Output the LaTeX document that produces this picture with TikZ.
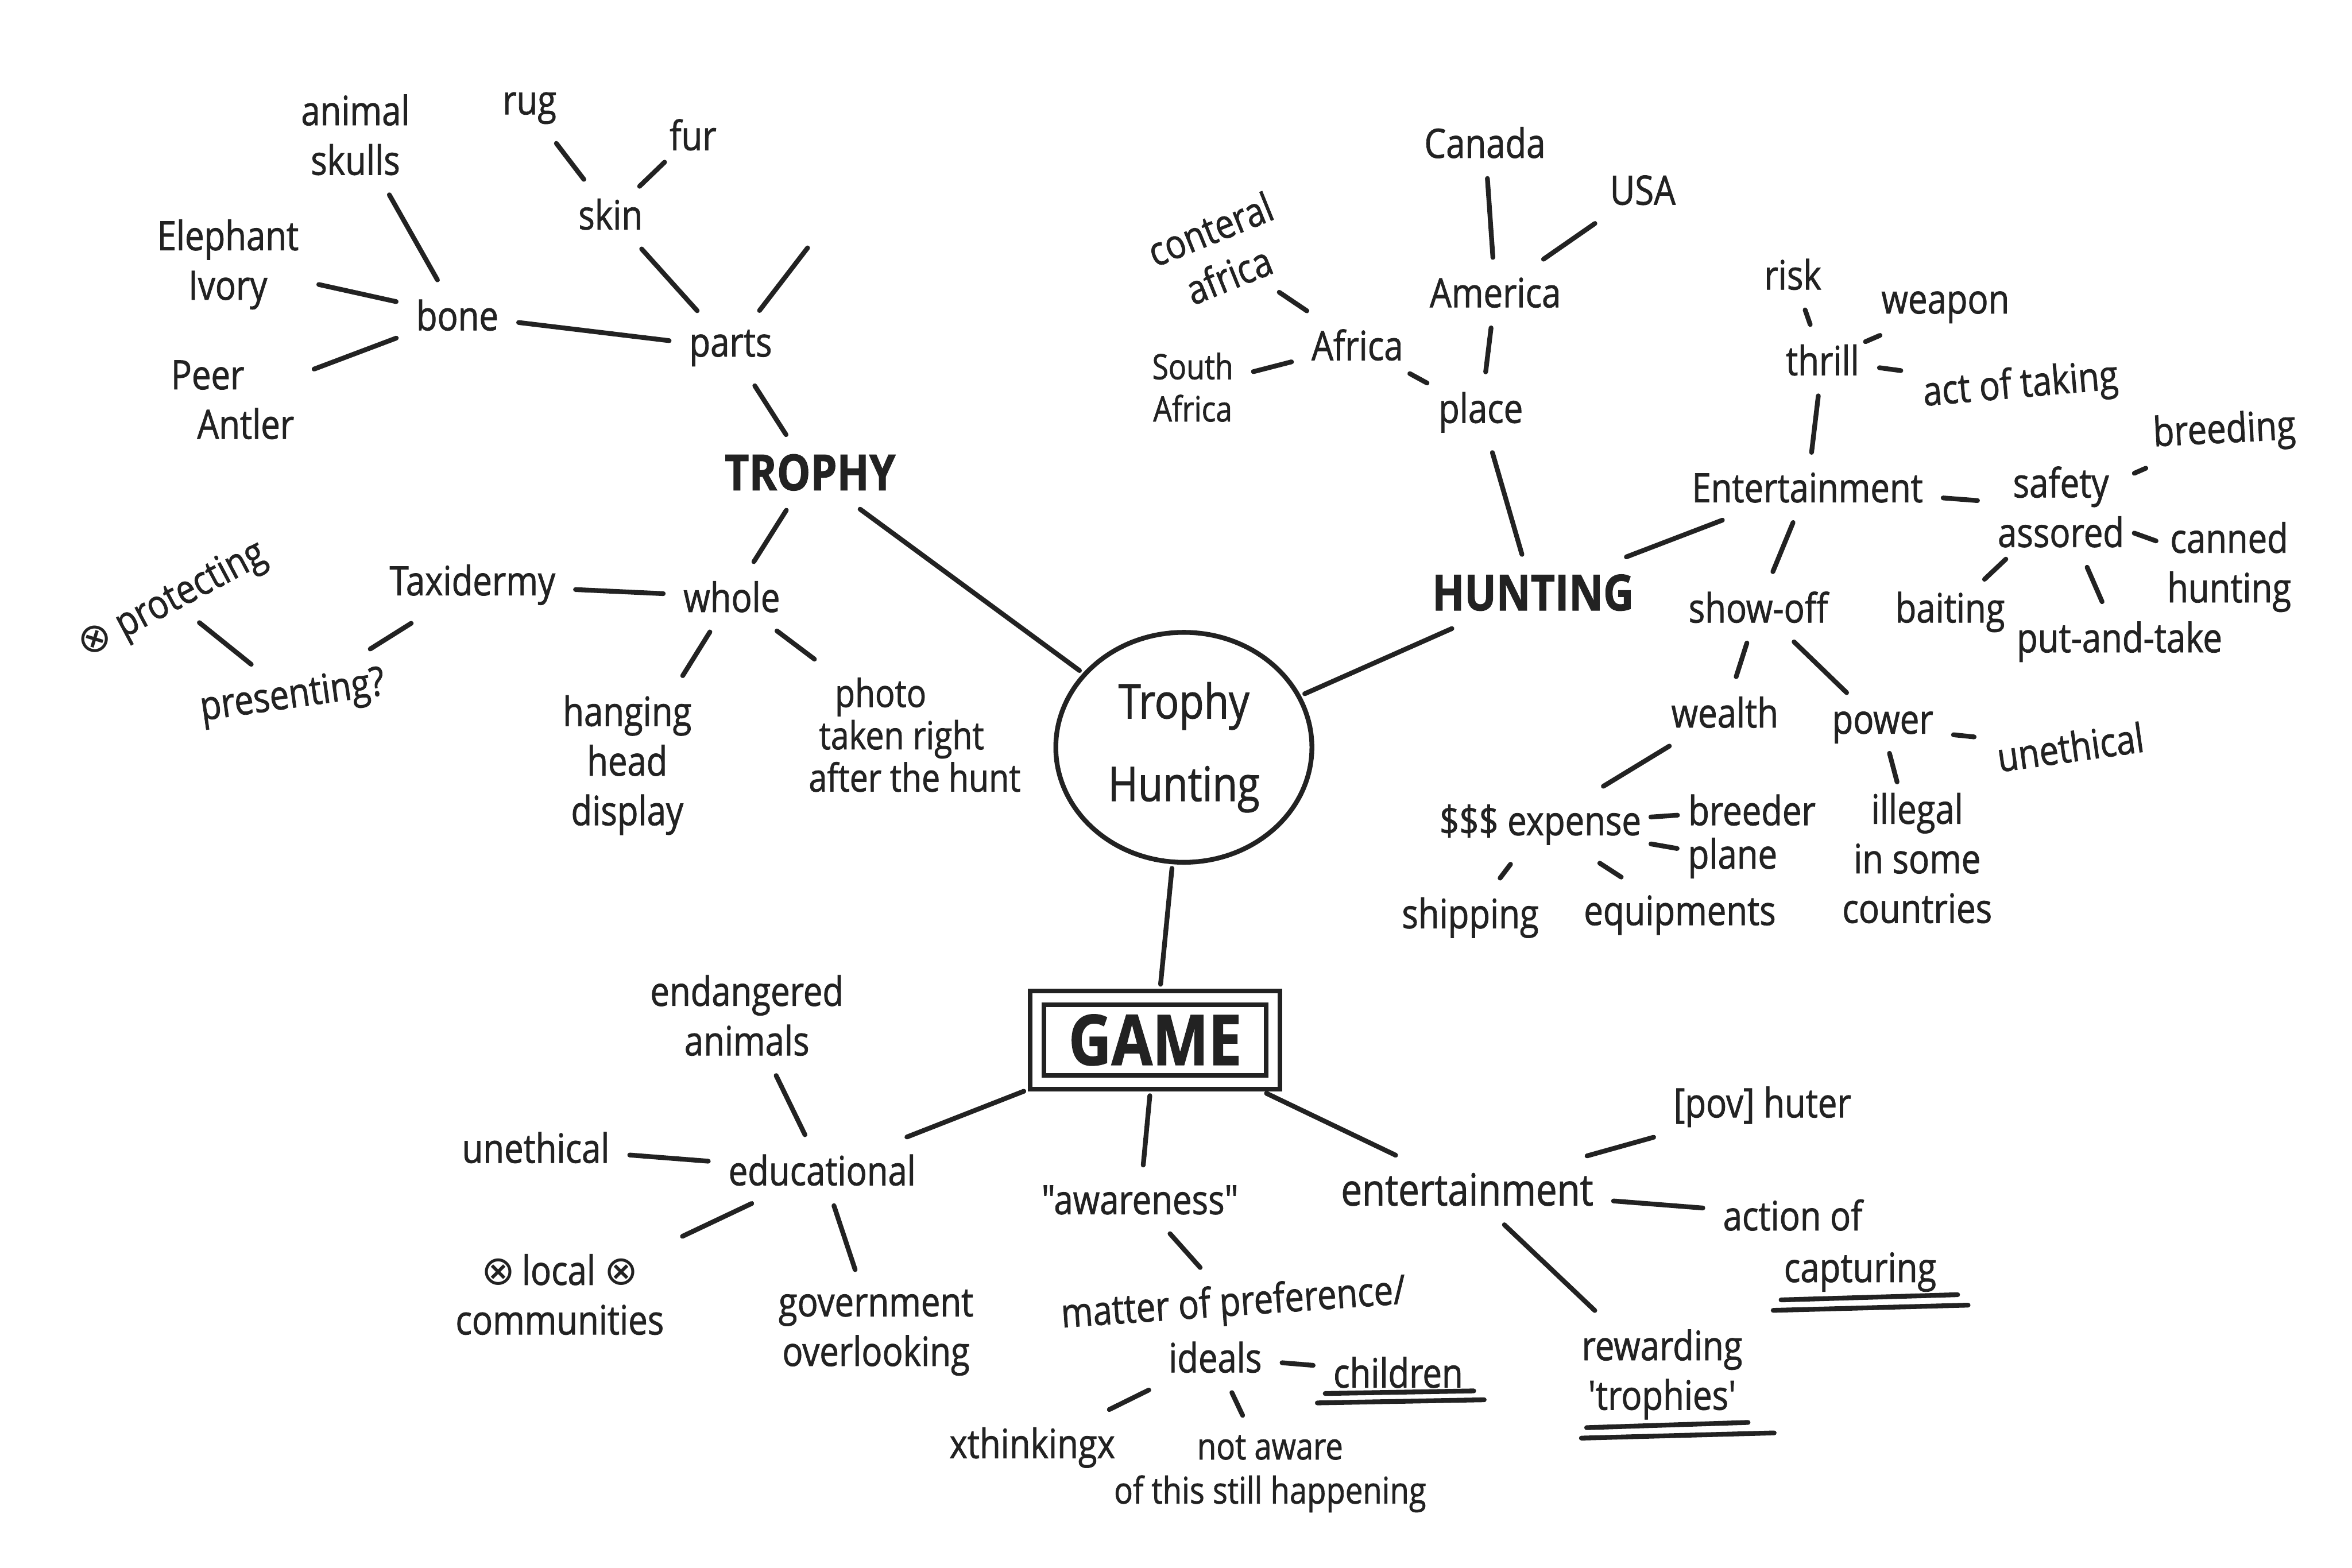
\documentclass[tikz,border=0pt]{standalone}
\usepackage{fontspec}
\setmainfont{Open Sans}[FakeStretch=0.85, FakeBold=1.2, Ligatures=TeXOff]
\newfontfamily\xmarkfont{DejaVu Sans}
\usetikzlibrary{positioning, fit, shapes.geometric}
\definecolor{ink}{HTML}{222222}
\newcommand{\xo}{{\xmarkfont ⊗}}

\begin{document}
\begin{tikzpicture}[
    font=\fontsize{22}{27}\selectfont,
    color=ink,
    leaf/.style={inner sep=0.3cm, align=center},
    topic/.style={leaf, font=\fontsize{27}{30}\selectfont\bfseries},
    hub/.style={ellipse, draw, line width=2.6pt, minimum width=4.9cm, minimum height=4.4cm, inner sep=0pt, align=center, font=\fontsize{26}{45}\selectfont},
    gamebox/.style={rectangle, draw, line width=2.6pt, minimum width=4.25cm, minimum height=1.35cm, inner sep=0pt, font=\fontsize{38}{40}\selectfont\bfseries},
    link/.style={line width=2.6pt, line cap=round, shorten >=0.08cm, shorten <=0.08cm},
    tight/.style={shorten >=-0.1cm, shorten <=-0.12cm},
    underline/.style={line width=2.6pt, line cap=round}
]

\path[fill=white] (0,0) rectangle (45,-30);

% Centre
\node[hub] (hub) at (22.65,-14.3) {Trophy\\Hunting};

% Trophy branch
\node[topic] (trophy) at (15.5,-9.04) {TROPHY};
\node[leaf] (parts) at (13.98,-6.66) {parts};
\coordinate (parts_end) at (15.5,-4.68);
\node[leaf] (skin) at (11.68,-4.1) {skin};
\node[leaf] (rug) at (10.13,-2.07) {rug};
\node[leaf] (fur) at (13.26,-2.58) {fur};
\node[leaf] (bone) at (8.75,-6.03) {bone};
\node[leaf] (animal_skulls) at (6.8,-2.58) {animal\\skulls};
\node[leaf] (elephant_ivory) at (4.36,-5.06) {Elephant\\Ivory};
\node[leaf, align=left] (peer_antler) at (4.45,-7.65) {Peer\\\hspace{0.5cm}Antler};
\node[leaf] (whole) at (14.0,-11.42) {whole};
\node[leaf] (taxidermy) at (9.04,-11.19) {Taxidermy};
\node[leaf, rotate=28, inner sep=0.15cm] (protecting) at (3.3,-11.5) {\xo\ protecting};
\node[leaf, rotate=8] (presenting) at (5.6,-13.35) {presenting?};
\node[leaf] (hanging) at (12.0,-14.64) {hanging\\head\\display};
\node[leaf, align=left, font=\fontsize{21}{23}\selectfont] (photo) at (17.5,-14.06) {\hspace{0.5cm}photo\\\hspace{0.2cm}taken right\\after the hunt};

\draw[link] (animal_skulls) -- (bone);
\draw[link] (rug) -- (skin);
\draw[link, tight] (fur) -- (skin);
\draw[link] (skin) -- (parts);
\draw[link] (elephant_ivory) -- (bone);
\draw[link] (peer_antler) -- (bone);
\draw[link] (bone) -- (parts);
\draw[link] (parts) -- (parts_end);
\draw[link] (parts) -- (trophy);
\draw[link] (trophy) -- (whole);
\draw[link] (trophy) -- (hub);
\draw[link] (whole) -- (taxidermy);
\draw[link] (taxidermy) -- (presenting);
\draw[link] (protecting) -- (presenting);
\draw[link] (whole) -- (hanging);
\draw[link] (whole) -- (photo);

% Hunting branch
\node[topic] (hunting) at (29.33,-11.34) {HUNTING};
\node[leaf] (place) at (28.33,-7.89) {place};
\node[leaf] (america) at (28.61,-5.6) {America};
\node[leaf] (canada) at (28.41,-2.73) {Canada};
\node[leaf] (usa) at (31.43,-3.64) {USA};
\node[leaf] (africa) at (25.97,-6.6) {Africa};
\node[leaf, rotate=22] (central_africa) at (23.33,-4.82) {conteral\\africa};
\node[leaf, font=\fontsize{19}{23}\selectfont] (south_africa) at (22.82,-7.41) {South\\Africa};
\node[leaf] (entertain_h) at (34.58,-9.33) {Entertainment};
\node[leaf] (thrill) at (34.87,-6.89) {thrill};
\node[leaf] (risk) at (34.3,-5.25) {risk};
\node[leaf] (weapon) at (37.22,-5.88) {weapon};
\node[leaf, rotate=5] (act_taking) at (38.66,-7.4) {act of taking};
\node[leaf] (safety) at (39.43,-9.7) {safety\\assored};
\node[leaf, rotate=3] (breeding) at (42.56,-8.27) {breeding};
\node[leaf] (canned) at (42.65,-10.85) {canned\\hunting};
\node[leaf] (baiting) at (37.31,-11.71) {baiting};
\node[leaf] (put_take) at (40.55,-12.28) {put-and-take};
\node[leaf] (show_off) at (33.64,-11.62) {show-off};
\node[leaf] (wealth) at (33.0,-13.63) {wealth};
\node[leaf] (power) at (36.02,-13.92) {power};
\node[leaf, rotate=8] (unethical_h) at (39.61,-14.29) {unethical};
\node[leaf] (expense) at (29.47,-15.78) {\$\$\$ expense};
\node[leaf] (breeder) at (33.52,-15.5) {breeder};
\node[leaf] (plane) at (33.15,-16.42) {plane};
\node[leaf] (illegal) at (36.68,-16.42) {illegal\\in some\\countries};
\node[leaf] (shipping) at (28.13,-17.56) {shipping};
\node[leaf] (equipments) at (32.14,-17.51) {equipments};

\draw[link] (canada) -- (america);
\draw[link] (usa) -- (america);
\draw[link] (america) -- (place);
\draw[link] (central_africa) -- (africa);
\draw[link] (south_africa) -- (africa);
\draw[link, tight] (africa) -- (place);
\draw[link] (place) -- (hunting);
\draw[link] (hunting) -- (hub);
\draw[link] (hunting) -- (entertain_h);
\draw[link] (risk) -- (thrill);
\draw[link, tight] (weapon) -- (thrill);
\draw[link] (thrill) -- (act_taking);
\draw[link] (thrill) -- (entertain_h);
\draw[link] (entertain_h) -- (safety);
\draw[link, tight] (safety) -- (breeding);
\draw[link, tight] (safety) -- (canned);
\draw[link] (safety) -- (put_take);
\draw[link, tight] (safety) -- (baiting);
\draw[link] (entertain_h) -- (show_off);
\draw[link] (show_off) -- (wealth);
\draw[link] (show_off) -- (power);
\draw[link] (power) -- (unethical_h);
\draw[link, tight] (power) -- (illegal);
\draw[link] (wealth) -- (expense);
\draw[link, tight] (expense) -- (breeder);
\draw[link, tight] (expense) -- (plane);
\draw[link] (expense) -- (shipping);
\draw[link] (expense) -- (equipments);

% Game branch
\node[gamebox] (game) at (22.1,-19.9) {GAME};
\node[draw, line width=2.6pt, fit=(game), inner sep=0.22cm] (game_frame) {};
\node[leaf] (educational) at (15.73,-22.39) {educational};
\node[leaf] (endangered) at (14.29,-19.43) {endangered\\animals};
\node[leaf] (unethical_g) at (10.25,-21.96) {unethical};
\node[leaf] (local) at (10.71,-24.77) {\xo\,local \xo\\communities};
\node[leaf] (government) at (16.76,-25.5) {government\\overlooking};
\node[leaf] (awareness) at (21.81,-22.96) {"awareness"};
\node[leaf, rotate=4] (matter) at (23.6,-24.97) {matter of preference/};
\node[leaf] (ideals) at (23.25,-25.97) {ideals};
\node[leaf] (children) at (26.75,-26.26) {children};
\node[leaf] (thinking) at (19.75,-27.7) {xthinkingx};
\node[leaf, font=\fontsize{20}{24}\selectfont] (not_aware) at (24.3,-28.2) {not aware\\of this still happening};
\node[leaf, font=\fontsize{24}{29}\selectfont] (entertain_g) at (28.07,-22.76) {entertainment};
\node[leaf] (pov) at (33.72,-21.18) {[pov] huter};
\node[leaf] (action) at (34.3,-23.25) {action of};
\node[leaf] (capturing) at (35.59,-24.34) {capturing};
\node[leaf] (rewarding) at (31.8,-26.3) {rewarding\\'trophies'};

\draw[link] (hub) -- (game_frame);
\draw[link] (game_frame) -- (educational);
\draw[link] (game_frame) -- (awareness);
\draw[link] (game_frame) -- (entertain_g);
\draw[link] (endangered) -- (educational);
\draw[link] (unethical_g) -- (educational);
\draw[link] (educational) -- (local);
\draw[link] (educational) -- (government);
\draw[link] (awareness) -- (matter);
\draw[link] (ideals) -- (children);
\draw[link] (ideals) -- (thinking);
\draw[link] (ideals) -- (not_aware);
\draw[link] (entertain_g) -- (pov);
\draw[link] (entertain_g) -- (action);
\draw[link] (entertain_g) -- (rewarding);

% underlines
\draw[underline] ([xshift=0.15cm, yshift=0.2cm]children.south west) -- ([xshift=-0.1cm, yshift=0.25cm]children.south east);
\draw[underline] ([xshift=0.0cm, yshift=0.02cm]children.south west) -- ([xshift=0.1cm, yshift=0.08cm]children.south east);
\draw[underline] ([xshift=0.25cm, yshift=0.15cm]capturing.south west) -- ([xshift=0.1cm, yshift=0.25cm]capturing.south east);
\draw[underline] ([xshift=0.1cm, yshift=-0.05cm]capturing.south west) -- ([xshift=0.3cm, yshift=0.05cm]capturing.south east);
\draw[underline] ([xshift=0.4cm, yshift=0.15cm]rewarding.south west) -- ([xshift=-0.2cm, yshift=0.25cm]rewarding.south east);
\draw[underline] ([xshift=0.3cm, yshift=-0.05cm]rewarding.south west) -- ([xshift=0.3cm, yshift=0.05cm]rewarding.south east);

\end{tikzpicture}
\end{document}
